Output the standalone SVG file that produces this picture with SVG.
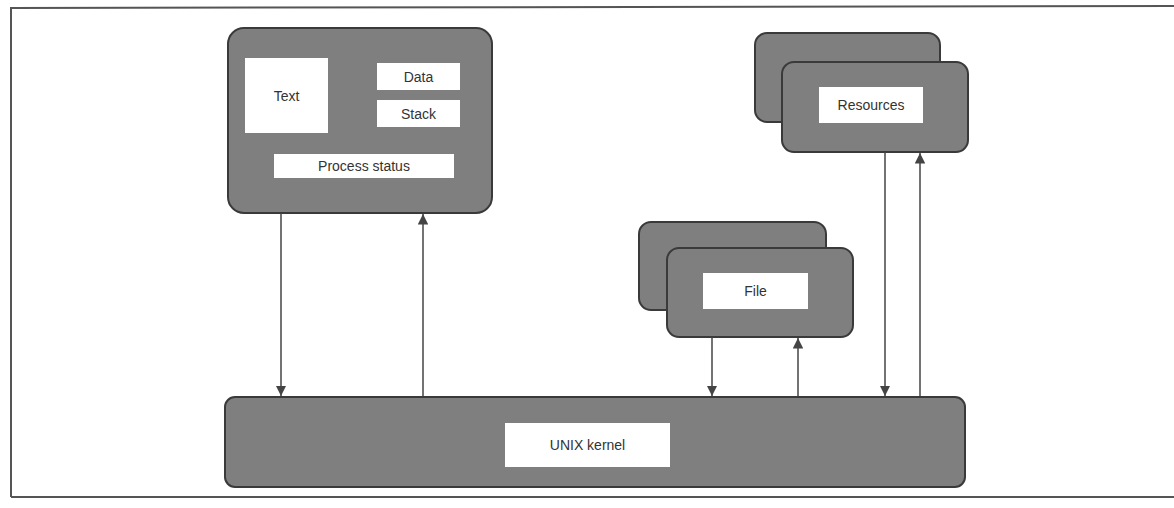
<svg xmlns="http://www.w3.org/2000/svg" width="1174" height="508" viewBox="0 0 1174 508">
<style>
.card{fill:#7f7f7f;stroke:#3a3a3a;stroke-width:2}
.lbl{fill:#ffffff;stroke:none}
.t{font-family:"Liberation Sans",Arial,sans-serif;font-size:14px;fill:#333;text-anchor:middle;dominant-baseline:central}
.c{stroke:#444;stroke-width:1.5;fill:none;marker-end:url(#ah)}
</style>
<defs>
<marker id="ah" viewBox="0 0 10 10" refX="10" refY="5" markerWidth="7" markerHeight="7" orient="auto" markerUnits="strokeWidth">
<path d="M0,0 L10,5 L0,10 z" fill="#444"/>
</marker>
</defs>
<rect width="1174" height="508" fill="#ffffff"/>
<g id="frame">
<path d="M11,497 L11,8 L1174,6" fill="none" stroke="#555" stroke-width="2"/>
<path d="M11,497 L1174,497" fill="none" stroke="#555" stroke-width="2"/>
</g>
<g id="process">
<rect class="card" x="228" y="28" width="264" height="185" rx="16"/>
<rect class="lbl" x="245" y="58" width="83" height="75"/>
<text class="t" x="286.5" y="96">Text</text>
<rect class="lbl" x="377" y="63" width="83" height="27"/>
<text class="t" x="418.5" y="76.5">Data</text>
<rect class="lbl" x="377" y="100" width="83" height="27"/>
<text class="t" x="418.5" y="113.5">Stack</text>
<rect class="lbl" x="274" y="154" width="180" height="24"/>
<text class="t" x="364" y="166">Process status</text>
</g>
<g id="resources">
<rect class="card" x="755" y="33" width="185" height="89" rx="12"/>
<rect class="card" x="782" y="62" width="186" height="90" rx="12"/>
<rect class="lbl" x="819" y="87" width="104" height="36"/>
<text class="t" x="871" y="105">Resources</text>
</g>
<g id="file">
<rect class="card" x="639" y="222" width="187" height="88" rx="12"/>
<rect class="card" x="667" y="248" width="186" height="89" rx="12"/>
<rect class="lbl" x="703" y="273" width="105" height="36"/>
<text class="t" x="755.5" y="291">File</text>
</g>
<g id="kernel">
<rect class="card" x="225" y="397" width="740" height="90" rx="10"/>
<rect class="lbl" x="505" y="423" width="165" height="44"/>
<text class="t" x="587.5" y="445">UNIX kernel</text>
</g>
<g id="connectors">
<line class="c" x1="281" y1="213" x2="281" y2="396"/>
<line class="c" x1="423" y1="396" x2="423" y2="214"/>
<line class="c" x1="712" y1="337" x2="712" y2="396"/>
<line class="c" x1="798" y1="396" x2="798" y2="338"/>
<line class="c" x1="885" y1="152" x2="885" y2="396"/>
<line class="c" x1="920" y1="396" x2="920" y2="153"/>
</g>
</svg>
